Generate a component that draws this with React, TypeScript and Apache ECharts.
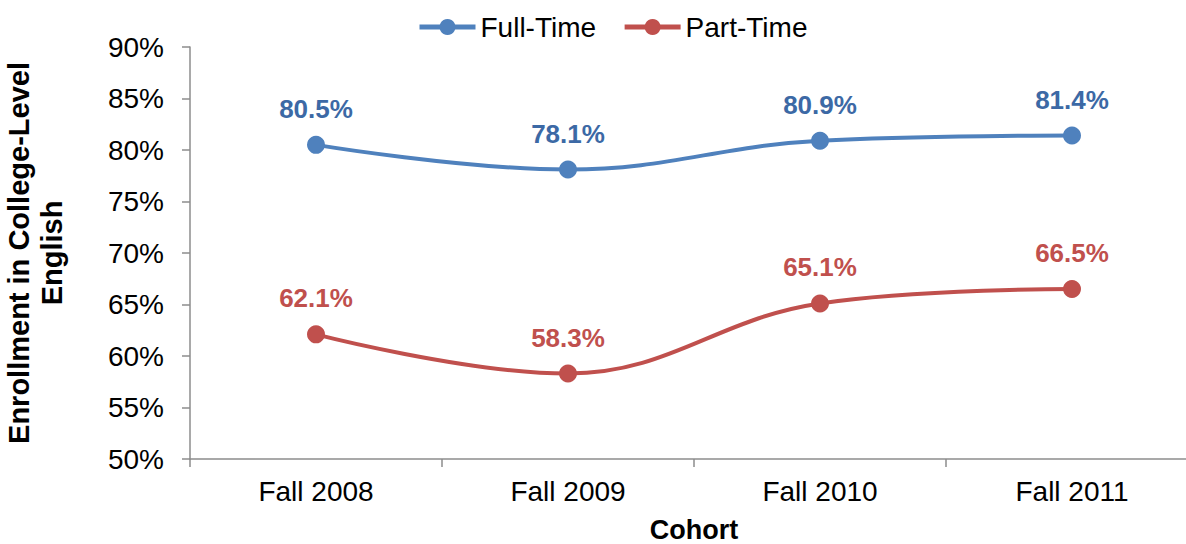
import React, { useEffect, useRef } from "react";
import * as echarts from "echarts";

const categories = ["Fall 2008", "Fall 2009", "Fall 2010", "Fall 2011"];
const fullTime = [80.5, 78.1, 80.9, 81.4];
const partTime = [62.1, 58.3, 65.1, 66.5];
const seriesNames = ["Full-Time", "Part-Time"];

const FONT = "'Liberation Sans', Arial, sans-serif";

export default function App() {
  const ref = useRef<HTMLDivElement>(null);
  useEffect(() => {
    if (!ref.current) return;
    const chart = echarts.init(ref.current, null, { renderer: "svg" });
    const mkSeries = (name: string, data: number[], color: string, labelColor: string) => ({
      name,
      type: "line",
      data,
      smooth: 0.4,
      symbol: "circle",
      symbolSize: 18,
      lineStyle: { color, width: 4 },
      itemStyle: { color },
      label: {
        show: true,
        position: "top",
        distance: 14,
        formatter: (p: any) => p.value.toFixed(1) + "%",
        color: labelColor,
        fontFamily: FONT,
        fontWeight: "bold",
        fontSize: 26,
      },
    });
    chart.setOption({
      animation: false,
      textStyle: { fontFamily: FONT },
      legend: {
        data: seriesNames,
        left: 412,
        top: 8,
        itemWidth: 56,
        itemHeight: 20,
        itemGap: 26,
        lineStyle: { width: 5 },
        textStyle: { fontFamily: FONT, fontSize: 28, color: "#000" },
      },
      grid: { left: 190, top: 47, width: 1008, height: 412, outerBoundsMode: "none", containLabel: false },
      xAxis: {
        type: "category",
        data: categories,
        boundaryGap: true,
        name: "Cohort",
        nameLocation: "middle",
        nameGap: 57,
        nameTextStyle: { fontFamily: FONT, fontSize: 27, fontWeight: "bold", color: "#000" },
        axisLine: { lineStyle: { color: "#8c8c8c", width: 1.5 } },
        axisTick: { show: true, length: 8, alignWithLabel: false, lineStyle: { color: "#8c8c8c", width: 1.5 } },
        axisLabel: { margin: 18, fontFamily: FONT, fontSize: 28, color: "#000" },
      },
      yAxis: {
        type: "value",
        min: 50,
        max: 90,
        interval: 5,
        name: "Enrollment in College-Level\nEnglish",
        nameLocation: "middle",
        nameRotate: 90,
        nameGap: 122,
        nameTextStyle: { fontFamily: FONT, fontSize: 29, fontWeight: "bold", color: "#000", lineHeight: 33, align: "center" },
        axisLine: { show: true, lineStyle: { color: "#8c8c8c", width: 1.5 } },
        axisTick: { show: true, length: 8, lineStyle: { color: "#8c8c8c", width: 1.5 } },
        splitLine: { show: false },
        axisLabel: { margin: 26, formatter: "{value}%", fontFamily: FONT, fontSize: 28, color: "#000" },
      },
      series: [
        mkSeries(seriesNames[0], fullTime, "#4F81BD", "#3C69A5"),
        mkSeries(seriesNames[1], partTime, "#C0504D", "#C0504D"),
      ],
    });
    return () => chart.dispose();
  }, []);
  return (
    <div
      ref={ref}
      style={{ position: "fixed", left: 0, top: 0, width: 1186, height: 544, background: "#fff" }}
    />
  );
}
